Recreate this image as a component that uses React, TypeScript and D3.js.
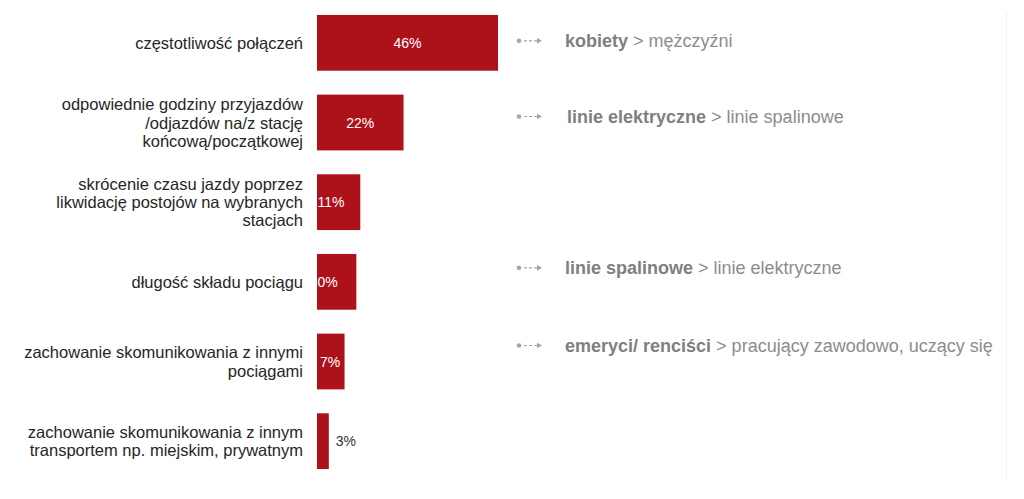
import * as d3 from 'd3';
import { useEffect, useRef } from 'react';

const categories = [
  ['częstotliwość połączeń'],
  ['odpowiednie godziny przyjazdów', '/odjazdów na/z stację', 'końcową/początkowej'],
  ['skrócenie czasu jazdy poprzez', 'likwidację postojów na wybranych', 'stacjach'],
  ['długość składu pociągu'],
  ['zachowanie skomunikowania z innymi', 'pociągami'],
  ['zachowanie skomunikowania z innym', 'transportem np. miejskim, prywatnym'],
];
const values = [46, 22, 11, 10, 7, 3];
const valueLabels = ['46%', '22%', '11%', '0%', '7%', '3%'];

const noteRows = [0, 1, 3, 4];
const noteBold = ['kobiety', 'linie elektryczne', 'linie spalinowe', 'emeryci/ renciści'];
const noteRest = [' > mężczyźni', ' > linie spalinowe', ' > linie elektryczne', ' > pracujący zawodowo, uczący się'];
const noteShift = [-2, -6, -14, -16];

const width = 1024;
const height = 499;
const barColor = '#ad121b';
const font = '"Liberation Sans", Arial, sans-serif';

const App = () => {
  const ref = useRef<SVGSVGElement | null>(null);

  useEffect(() => {
    const svg = d3.select(ref.current!);
    svg.selectAll('*').remove();

    const x = d3.scaleLinear().domain([0, 46]).range([317, 498]);
    const y = d3.scaleBand<number>()
      .domain(d3.range(values.length))
      .range([3, 481])
      .paddingInner(0.3)
      .paddingOuter(0.15);

    // faint frame line on the right
    svg.append('line')
      .attr('x1', 1006.5).attr('x2', 1006.5)
      .attr('y1', 12).attr('y2', 480)
      .attr('stroke', '#f2f2f2');

    const rows = svg.selectAll('g.row')
      .data(values)
      .enter()
      .append('g')
      .attr('class', 'row');

    rows.append('rect')
      .attr('x', x(0))
      .attr('y', (_, i) => y(i)!)
      .attr('width', d => x(d) - x(0))
      .attr('height', y.bandwidth())
      .attr('fill', barColor);

    // category labels
    const lineH = 18.3;
    rows.append('text')
      .attr('text-anchor', 'end')
      .attr('font-family', font)
      .attr('font-size', 16.5)
      .attr('fill', '#262626')
      .each(function (_, i) {
        const lines = categories[i];
        const cy = y(i)! + y.bandwidth() / 2;
        const t = d3.select(this);
        lines.forEach((ln, k) => {
          t.append('tspan')
            .attr('x', 303)
            .attr('y', cy + (k - (lines.length - 1) / 2) * lineH + 6)
            .text(ln);
        });
      });

    // value labels
    rows.append('text')
      .attr('font-family', font)
      .attr('font-size', 14)
      .attr('dy', 5)
      .attr('y', (_, i) => y(i)! + y.bandwidth() / 2)
      .attr('x', d => {
        const w = x(d) - x(0);
        if (w > 60) return x(0) + w / 2;
        if (w < 20) return x(d) + 7;
        if (w < 30) return x(0) + 3;
        return x(0) + 0.5;
      })
      .attr('text-anchor', d => (x(d) - x(0) > 60 ? 'middle' : 'start'))
      .attr('fill', d => (x(d) - x(0) < 20 ? '#333' : '#fff'))
      .text((_, i) => valueLabels[i]);

    // annotations
    const notes = svg.selectAll('g.note')
      .data(noteRows)
      .enter()
      .append('g')
      .attr('class', 'note')
      .attr('transform', (r, k) => `translate(0,${y(r)! + y.bandwidth() / 2 + noteShift[k]})`);

    notes.append('circle')
      .attr('cx', 519).attr('cy', 0).attr('r', 2.3)
      .attr('fill', '#a6a6a6');
    notes.append('line')
      .attr('x1', 524).attr('x2', 537)
      .attr('y1', 0).attr('y2', 0)
      .attr('stroke', '#a6a6a6')
      .attr('stroke-width', 1.2)
      .attr('stroke-dasharray', '3,2');
    notes.append('path')
      .attr('d', 'M537,-2.8L542,0L537,2.8Z')
      .attr('fill', '#a6a6a6');

    const nt = notes.append('text')
      .attr('x', (_, k) => (k === 1 ? 567 : 565))
      .attr('y', 6)
      .attr('font-family', font)
      .attr('font-size', 18)
      .attr('fill', '#8c8c8c');
    nt.append('tspan')
      .attr('font-weight', 'bold')
      .attr('fill', '#7f7f7f')
      .text((_, k) => noteBold[k]);
    nt.append('tspan')
      .text((_, k) => noteRest[k]);
  }, []);

  return (
    <svg
      ref={ref}
      width={width}
      height={height}
      style={{ position: 'absolute', left: 0, top: 0, background: '#fff' }}
    />
  );
};

export default App;
